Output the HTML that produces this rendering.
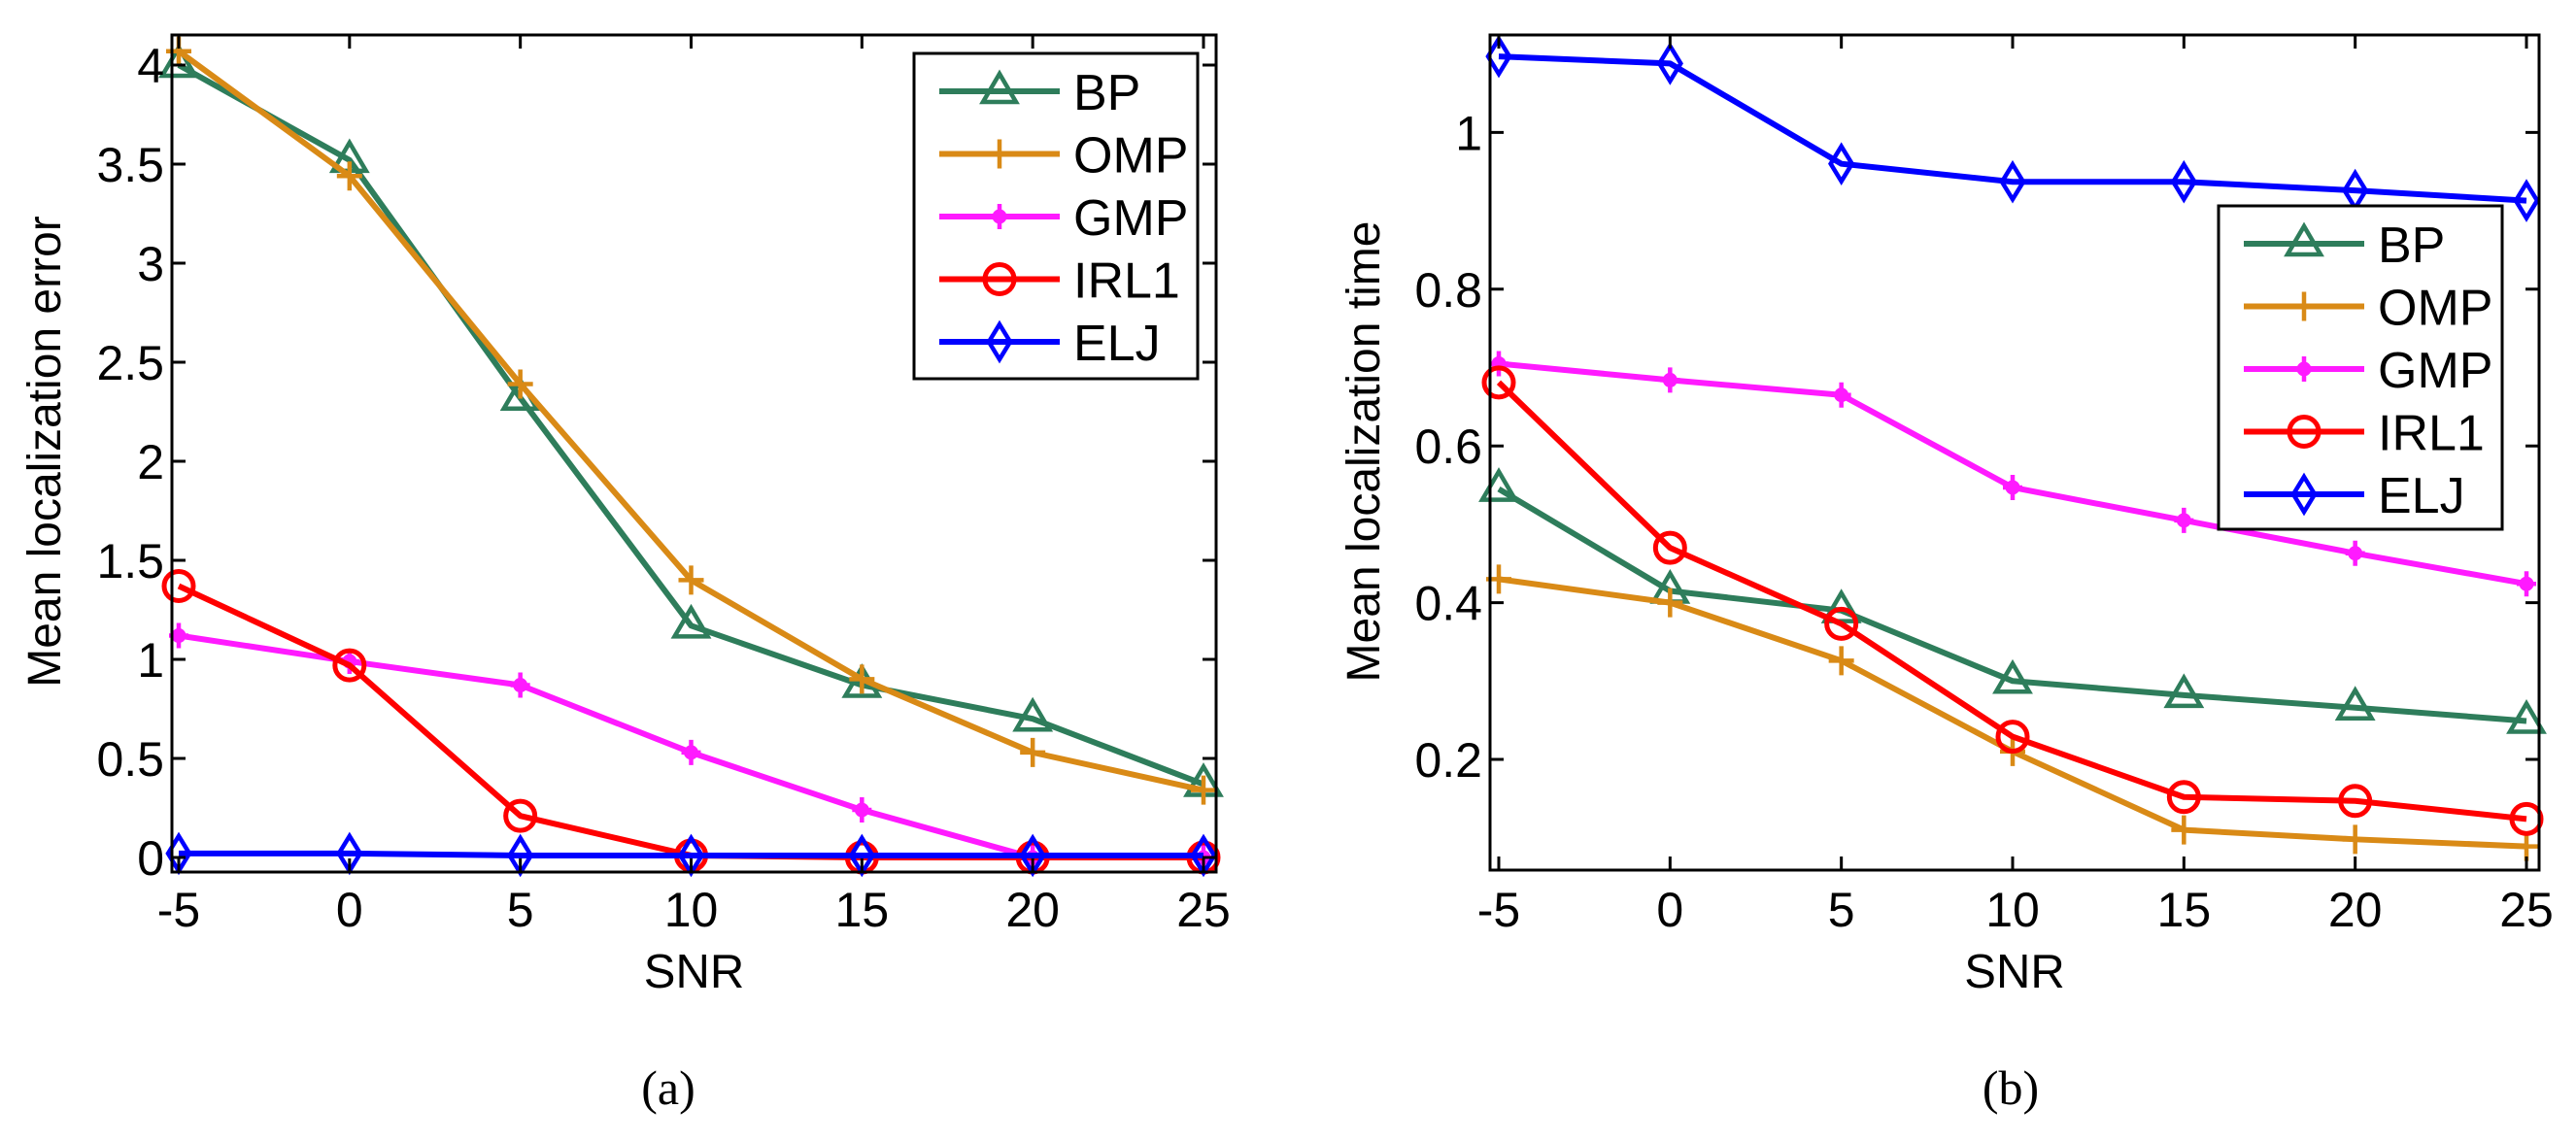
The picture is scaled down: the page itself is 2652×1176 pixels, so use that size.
<!DOCTYPE html>
<html><head><meta charset="utf-8"><style>
body{margin:0;background:#fff}
svg text{font-family:"Liberation Sans",Arial,sans-serif;fill:#000}
</style></head><body>
<svg id="chart" width="2652" height="1171" xmlns="http://www.w3.org/2000/svg"></svg>
<script>
const snr = [-5, 0, 5, 10, 15, 20, 25];
const seriesNames = ["BP", "OMP", "GMP", "IRL1", "ELJ"];
const errBP = [4.0, 3.52, 2.32, 1.17, 0.87, 0.70, 0.37];
const errOMP = [4.07, 3.44, 2.39, 1.40, 0.90, 0.53, 0.34];
const errGMP = [1.12, 0.99, 0.87, 0.53, 0.24, 0.0, 0.0];
const errIRL1 = [1.37, 0.97, 0.21, 0.01, 0.0, 0.0, 0.0];
const errELJ = [0.02, 0.02, 0.01, 0.01, 0.01, 0.01, 0.01];
const timeBP = [0.545, 0.415, 0.39, 0.30, 0.282, 0.266, 0.249];
const timeOMP = [0.430, 0.40, 0.326, 0.21, 0.11, 0.098, 0.089];
const timeGMP = [0.705, 0.684, 0.665, 0.547, 0.505, 0.463, 0.424];
const timeIRL1 = [0.681, 0.470, 0.373, 0.229, 0.152, 0.147, 0.124];
const timeELJ = [1.097, 1.088, 0.960, 0.937, 0.937, 0.926, 0.913];
const xTicks = [-5, 0, 5, 10, 15, 20, 25];
const yTicksA = [0, 0.5, 1, 1.5, 2, 2.5, 3, 3.5, 4];
const yTickLabelsA = ["0","0.5","1","1.5","2","2.5","3","3.5","4"];
const yTicksB = [0.2, 0.4, 0.6, 0.8, 1];
const yTickLabelsB = ["0.2","0.4","0.6","0.8","1"];

const colors = ["#2e7d5b", "#d98a16", "#ff1aff", "#ff0000", "#0000ff"];
const markers = ["tri", "plus", "star", "circle", "diamond"];
const NS = "http://www.w3.org/2000/svg";
const svg = document.getElementById("chart");
function mk(tag, attrs, parent) {
  const e = document.createElementNS(NS, tag);
  for (const k in attrs) e.setAttribute(k, attrs[k]);
  (parent || svg).appendChild(e);
  return e;
}
function marker(g, type, x, y, c) {
  if (type === "tri") mk("polygon", {points: `${x},${y-18} ${x-17},${y+11} ${x+17},${y+11}`, fill: "none", stroke: c, "stroke-width": 4.5}, g);
  else if (type === "plus") mk("path", {d: `M${x-13},${y}H${x+13}M${x},${y-15}V${y+15}`, stroke: c, "stroke-width": 4.5}, g);
  else if (type === "star") { mk("circle", {cx: x, cy: y, r: 7.5, fill: c}, g); mk("path", {d: `M${x-10},${y}H${x+10}M${x},${y-13}V${y+13}`, stroke: c, "stroke-width": 4.5}, g); }
  else if (type === "circle") mk("circle", {cx: x, cy: y, r: 15, fill: "none", stroke: c, "stroke-width": 5}, g);
  else mk("polygon", {points: `${x},${y-18} ${x+11},${y} ${x},${y+18} ${x-11},${y}`, fill: "none", stroke: c, "stroke-width": 4.5}, g);
}
function panel(cfg) {
  const {L, R, T, B, x0, x25, yOf, yTicks, yLabels, series, ylabel, ylx, caption, capx, legend} = cfg;
  const xOf = v => x0 + (v + 5) / 30 * (x25 - x0);
  const g = mk("g", {});
  
  
  series.forEach((vals, i) => {
    const sg = mk("g", {}, g);
    
    
    mk("polyline", {points: vals.map((v, j) => xOf(snr[j]) + "," + yOf(v)).join(" "), fill: "none", stroke: colors[i], "stroke-width": 6, "stroke-linejoin": "round"}, sg);
    vals.forEach((v, j) => marker(sg, markers[i], xOf(snr[j]), yOf(v), colors[i]));
  });
  const ax = mk("g", {}, g);
  
  
  mk("rect", {x: L, y: T, width: R - L, height: B - T, fill: "none", stroke: "#000", "stroke-width": 3}, ax);
  xTicks.forEach(t => {
    const x = xOf(t);
    mk("path", {d: `M${x},${B}v-14M${x},${T}v14`, stroke: "#000", "stroke-width": 3}, ax);
    const tx = mk("text", {x: x, y: 954, "font-size": 50, "text-anchor": "middle"}, ax);
    tx.textContent = t;
    
    
  });
  yTicks.forEach((t, i) => {
    const y = yOf(t);
    mk("path", {d: `M${L},${y}h14M${R},${y}h-14`, stroke: "#000", "stroke-width": 3}, ax);
    const tx = mk("text", {x: L - 8, y: y + 18, "font-size": 50, "text-anchor": "end"}, ax);
    tx.textContent = yLabels[i];
    
    
  });
  const xl = mk("text", {x: (L + R) / 2, y: 1017, "font-size": 49, "text-anchor": "middle"}, g);
  xl.textContent = "SNR";
  
  
  const yl = mk("text", {x: 0, y: 0, "font-size": 48, "text-anchor": "middle", transform: `translate(${ylx},465) rotate(-90)`}, g);
  yl.textContent = ylabel;
  
  
  const cp = mk("text", {x: capx, y: 1137, "font-size": 50, "text-anchor": "middle", style: "font-family:'Liberation Serif',serif"}, g);
  cp.textContent = caption;
  
  
  const lg = mk("g", {}, g);
  
  
  mk("rect", {x: legend.x, y: legend.y, width: legend.w, height: legend.h, fill: "#fff", stroke: "#000", "stroke-width": 3}, lg);
  seriesNames.forEach((n, i) => {
    const y = legend.y + legend.first + i * legend.step;
    const eg = mk("g", {}, lg);
    
    
    mk("line", {x1: legend.x + 26, x2: legend.x + 150, y1: y, y2: y, stroke: colors[i], "stroke-width": 6}, eg);
    marker(eg, markers[i], legend.x + 88, y, colors[i]);
    const t = mk("text", {x: legend.x + 164, y: y + 19, "font-size": 52}, eg);
    t.textContent = n;
  });
}
panel({name: "panel-a-error", L: 177, R: 1252, T: 36, B: 898, x0: 184, x25: 1239,
  yOf: v => 883 - v * 204, yTicks: yTicksA, yLabels: yTickLabelsA,
  series: [errBP, errOMP, errGMP, errIRL1, errELJ], ylabel: "Mean localization error", ylx: 62,
  caption: "(a)", capx: 688, legend: {x: 941, y: 55, w: 292, h: 335, first: 39, step: 64.5}});
panel({name: "panel-b-time", L: 1534, R: 2614, T: 36, B: 896, x0: 1543, x25: 2601,
  yOf: v => 782 - (v - 0.2) * 807, yTicks: yTicksB, yLabels: yTickLabelsB,
  series: [timeBP, timeOMP, timeGMP, timeIRL1, timeELJ], ylabel: "Mean localization time", ylx: 1420,
  caption: "(b)", capx: 2070, legend: {x: 2284, y: 212, w: 292, h: 333, first: 39, step: 64.5}});
</script>
</body></html>
